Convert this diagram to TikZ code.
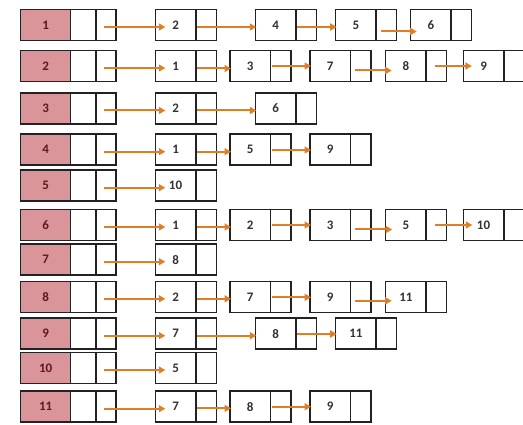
\documentclass[tikz,border=0pt]{standalone}
\usepackage{fontspec}
\setmainfont{Carlito}
\usetikzlibrary{arrows.meta}
\definecolor{headpink}{HTML}{D9959A}
\definecolor{boxline}{HTML}{222222}
\definecolor{arrcol}{HTML}{E07E26}
\definecolor{headtxt}{HTML}{5C1A1A}
\definecolor{valtxt}{HTML}{333333}
\tikzset{
  cell/.style={draw=boxline, line width=1.5pt, fill=white, minimum height=31pt, inner sep=0pt, outer sep=0pt},
  headv/.style={cell, fill=headpink, minimum width=50pt, text=headtxt, font=\fontsize{13}{14}\selectfont\bfseries},
  valc/.style={cell, minimum width=40.5pt, text=valtxt, font=\fontsize{13}{14}\selectfont\bfseries},
  ptrc/.style={cell, minimum width=20.5pt},
  arr/.style={draw=arrcol, line width=2pt, -{Triangle[length=6.5pt,width=7pt]}, color=arrcol}
}
\newcommand\headrow[2]{%
  \node[headv, anchor=west] (h#1) at (20.7,#2) {#1};
  \node[cell, minimum width=25.5pt, anchor=west] (h#1m) at (h#1.east) {};
  \node[cell, minimum width=19.7pt, anchor=west] (h#1p) at (h#1m.east) {};}
\newcommand\lnode[4]{%
  \node[valc, anchor=west] (#1) at (#2,#3) {#4};
  \node[ptrc, anchor=west] (#1p) at (#1.east) {};}
\newcommand\harr[2]{\draw[arr] ([shift={(8,2)}]#1p.west) -- ([shift={(10,2)}]#2.west);}
\newcommand\sarr[3]{\draw[arr] ([shift={(1,#3)}]#1p.west) -- ([shift={(1,#3)}]#2.west);}
\newcommand\oarr[5]{\draw[arr] ([shift={(#3,#5)}]#1p.west) -- ([shift={(#4,#5)}]#2.west);}
\begin{document}
\begin{tikzpicture}[x=1pt,y=-1pt]
\useasboundingbox (0,0) rectangle (523,425);
\clip (0,0) rectangle (523,425);
% heads
\headrow{1}{25}
\headrow{2}{66}
\headrow{3}{108.5}
\headrow{4}{149.7}
\headrow{5}{185.7}
\headrow{6}{225}
\headrow{7}{259.7}
\headrow{8}{296.8}
\headrow{9}{333.7}
\headrow{10}{368}
\headrow{11}{406.7}
% row 1
\lnode{r1a}{155.3}{25}{2}
\lnode{r1b}{255.3}{25}{4}
\lnode{r1c}{335.7}{25}{5}
\lnode{r1d}{410.7}{25}{6}
\harr{h1}{r1a}
\sarr{r1a}{r1b}{2}
\sarr{r1b}{r1c}{2}
\oarr{r1c}{r1d}{5}{6}{6.5}
% row 2
\lnode{r2a}{155.3}{66}{1}
\lnode{r2b}{230}{66}{3}
\lnode{r2c}{310}{66}{7}
\lnode{r2d}{385.7}{66}{8}
\lnode{r2e}{463.3}{66}{9}
\harr{h2}{r2a}
\sarr{r2a}{r2b}{2.5}
\sarr{r2b}{r2c}{0}
\oarr{r2c}{r2d}{4}{6}{4.5}
\oarr{r2d}{r2e}{9}{8.5}{0}
% row 3
\lnode{r3a}{155.3}{108.5}{2}
\lnode{r3b}{255.3}{108.5}{6}
\harr{h3}{r3a}
\sarr{r3a}{r3b}{2}
% row 4
\lnode{r4a}{155.3}{149.7}{1}
\lnode{r4b}{230}{149.7}{5}
\lnode{r4c}{310}{149.7}{9}
\harr{h4}{r4a}
\sarr{r4a}{r4b}{2}
\sarr{r4b}{r4c}{0.3}
% row 5
\lnode{r5a}{155.3}{185.7}{10}
\harr{h5}{r5a}
% row 6
\lnode{r6a}{155.3}{225}{1}
\lnode{r6b}{230}{225}{2}
\lnode{r6c}{310}{225}{3}
\lnode{r6d}{385.7}{225}{5}
\lnode{r6e}{463.3}{225}{10}
\harr{h6}{r6a}
\sarr{r6a}{r6b}{2}
\sarr{r6b}{r6c}{0}
\oarr{r6c}{r6d}{4}{6.5}{4.5}
\oarr{r6d}{r6e}{9}{9}{0}
% row 7
\lnode{r7a}{155.3}{259.7}{8}
\harr{h7}{r7a}
% row 8
\lnode{r8a}{155.3}{296.8}{2}
\lnode{r8b}{230}{296.8}{7}
\lnode{r8c}{310}{296.8}{9}
\lnode{r8d}{385.7}{296.8}{11}
\harr{h8}{r8a}
\sarr{r8a}{r8b}{2}
\sarr{r8b}{r8c}{0.5}
\oarr{r8c}{r8d}{4}{6}{4}
% row 9
\lnode{r9a}{155.3}{333.7}{7}
\lnode{r9b}{255.3}{333.7}{8}
\lnode{r9c}{335.7}{333.7}{11}
\harr{h9}{r9a}
\sarr{r9a}{r9b}{2}
\sarr{r9b}{r9c}{0.3}
% row 10
\lnode{r10a}{155.3}{368}{5}
\harr{h10}{r10a}
% row 11
\lnode{r11a}{155.3}{406.7}{7}
\lnode{r11b}{230}{406.7}{8}
\lnode{r11c}{310}{406.7}{9}
\harr{h11}{r11a}
\sarr{r11a}{r11b}{1.6}
\sarr{r11b}{r11c}{0}
\end{tikzpicture}
\end{document}
